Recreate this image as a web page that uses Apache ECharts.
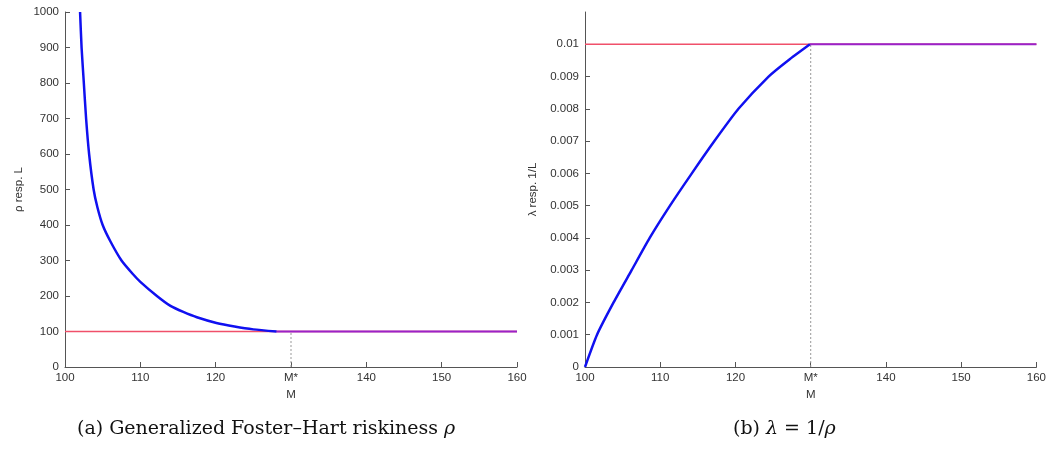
<!DOCTYPE html>
<html>
<head>
<meta charset="utf-8">
<script src="https://cdn.jsdelivr.net/npm/echarts@6/dist/echarts.min.js"></script>
<style>
html,body{margin:0;padding:0;background:#fff;}
#c{width:1049px;height:449px;}
</style>
</head>
<body>
<div id="c"></div>
<script>
// ---- data ----
const xTicks = [100, 110, 120, 130, 140, 150, 160];
const mStar = 130;
const lamTicks = [0, 0.001, 0.002, 0.003, 0.004, 0.005, 0.006, 0.007, 0.008, 0.009, 0.01];
// (a) rho curve
const rhoM    = [102.0, 102.2, 102.5, 102.8, 103.2, 103.8, 104.3, 105.0, 106.0, 107.5, 109.0, 110.0, 112.2, 114.0, 115.7, 117.5, 120.1, 122.5, 125.0, 128.1];
const rhoVals = [1000,  900,   800,   700,   600,   500,   450,   400,   355,   300,   262,   240,   200,   172,   155,   140,   124,   114,   106,   100];
const rhoLevel = 100;       // red reference level
const rhoFlatEnd = [128.1, 160];
// (b) lambda curve
const lamM    = [100, 101.6, 103.8, 106.2, 108.6, 111.3, 114.2, 117.2, 120.4, 124.4, 127.0, 129.9];
const lamVals = [0, 0.001, 0.002, 0.003, 0.004, 0.005, 0.006, 0.007, 0.008, 0.009, 0.0095, 0.01];
const lamLevel = 0.01;
const lamFlatEnd = [129.9, 160];

const zip = (a, b) => a.map((v, i) => [v, b[i]]);

const labelStyle = {color: '#333', fontFamily: 'Liberation Sans, Arial, sans-serif', fontSize: 11.5};
const axisLine = {show: true, lineStyle: {color: '#555', width: 1}};
function xAxis(gi) {
  return {
    type: 'value', gridIndex: gi, min: 100, max: 160, interval: 10,
    axisLine: axisLine, splitLine: {show: false},
    axisTick: {inside: true, length: 5, lineStyle: {color: '#555'}},
    axisLabel: Object.assign({margin: 5, formatter: v => v === mStar ? 'M*' : String(v)}, labelStyle),
    name: 'M', nameLocation: 'middle', nameGap: 22,
    nameTextStyle: labelStyle
  };
}
const RED = '#f0506a', BLUE = '#1010f0', PURPLE = '#9a22c8';

const option = {
  animation: false,
  grid: [
    {left: 65, right: 532, top: 12, bottom: 82},
    {left: 585, right: 12, top: 12, bottom: 82}
  ],
  xAxis: [xAxis(0), xAxis(1)],
  yAxis: [
    {
      type: 'value', gridIndex: 0, min: 0, max: 1000, interval: 100,
      axisLine: axisLine, splitLine: {show: false},
      axisTick: {inside: true, length: 5, lineStyle: {color: '#555'}},
      axisLabel: Object.assign({margin: 6, formatter: v => String(v)}, labelStyle),
      name: 'ρ resp. L', nameLocation: 'middle', nameGap: 40, nameRotate: 90,
      nameTextStyle: labelStyle
    },
    {
      type: 'value', gridIndex: 1, min: 0, max: 0.011, interval: 0.001,
      axisLine: axisLine, splitLine: {show: false},
      axisTick: {inside: true, length: 5, lineStyle: {color: '#555'}, customValues: lamTicks},
      axisLabel: Object.assign({margin: 6, customValues: lamTicks, formatter: v => String(+v.toFixed(3))}, labelStyle),
      name: 'λ resp. 1/L', nameLocation: 'middle', nameGap: 46, nameRotate: 90,
      nameTextStyle: labelStyle
    }
  ],
  series: [
    // (a)
    {type: 'line', xAxisIndex: 0, yAxisIndex: 0, data: [[mStar, 0], [mStar, rhoLevel]], symbol: 'none',
     lineStyle: {color: '#999', width: 1, type: [2, 2]}},
    {type: 'line', xAxisIndex: 0, yAxisIndex: 0, data: [[100, rhoLevel], [160, rhoLevel]], symbol: 'none',
     lineStyle: {color: RED, width: 1.5}},
    {type: 'line', xAxisIndex: 0, yAxisIndex: 0, data: zip(rhoM, rhoVals), symbol: 'none', smooth: 0.2,
     lineStyle: {color: BLUE, width: 2.5}},
    {type: 'line', xAxisIndex: 0, yAxisIndex: 0, data: rhoFlatEnd.map(m => [m, rhoLevel]), symbol: 'none',
     lineStyle: {color: PURPLE, width: 2}},
    // (b)
    {type: 'line', xAxisIndex: 1, yAxisIndex: 1, data: [[mStar, 0], [mStar, lamLevel]], symbol: 'none',
     lineStyle: {color: '#999', width: 1, type: [2, 2]}},
    {type: 'line', xAxisIndex: 1, yAxisIndex: 1, data: [[100, lamLevel], [160, lamLevel]], symbol: 'none',
     lineStyle: {color: RED, width: 1.5}},
    {type: 'line', xAxisIndex: 1, yAxisIndex: 1, data: zip(lamM, lamVals), symbol: 'none', smooth: 0.2,
     lineStyle: {color: BLUE, width: 2.5}},
    {type: 'line', xAxisIndex: 1, yAxisIndex: 1, data: lamFlatEnd.map(m => [m, lamLevel]), symbol: 'none',
     lineStyle: {color: PURPLE, width: 2}}
  ],
  graphic: [
    {type: 'text', left: 77, top: 420, style: {
      text: '(a) Generalized Foster–Hart riskiness {i|ρ}',
      font: '19px "DejaVu Serif", serif', fill: '#111',
      rich: {i: {fontStyle: 'italic', fontFamily: 'DejaVu Serif', fontSize: 19}}
    }},
    {type: 'text', left: 733, top: 420, style: {
      text: '(b) {i|λ} = 1/{i|ρ}',
      font: '19px "DejaVu Serif", serif', fill: '#111',
      rich: {i: {fontStyle: 'italic', fontFamily: 'DejaVu Serif', fontSize: 19}}
    }}
  ]
};
const chart = echarts.init(document.getElementById('c'), null, {renderer: 'canvas'});
chart.setOption(option);
</script>
</body>
</html>
